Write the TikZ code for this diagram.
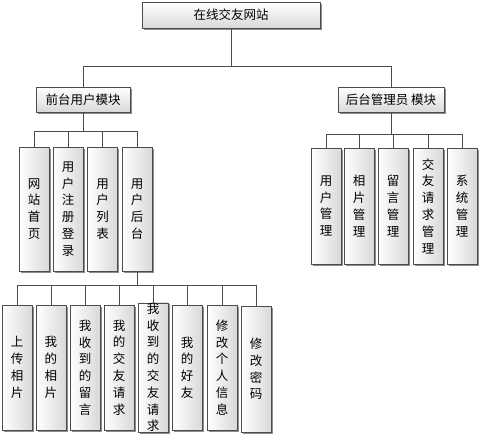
\documentclass[tikz,border=0pt]{standalone}
\usepackage{fontspec}
\setmainfont{Noto Sans CJK SC}
\usetikzlibrary{positioning}
\usetikzlibrary{shadows}
\tikzset{link/.style={draw=black!70, line width=0.8pt}}
\tikzset{boxbase/.style={draw=black!70, line width=0.8pt, inner sep=0pt,
  drop shadow={shadow xshift=1.5pt, shadow yshift=-1.5pt, fill=black!45, opacity=1},
  font=\fontsize{12.5}{16.8}\selectfont}}
\tikzset{hbox/.style={boxbase, top color=white, bottom color=black!15, minimum height=25pt}}
\tikzset{vbox/.style={boxbase, left color=white, right color=black!15, minimum width=30pt, align=center}}

\begin{document}
\begin{tikzpicture}[x=1pt,y=-1pt]
\useasboundingbox (0,0) rectangle (480,439);
\node[hbox, minimum width=178pt, minimum height=26pt] (site) at (231,15) {在线交友网站};
\node[hbox, minimum width=94pt] (front) at (83,99.5) {前台用户模块};
\node[hbox, minimum width=106pt] (back) at (391,100) {后台管理员 模块};
% front end
\node[vbox, minimum height=124pt] (home) at (34,209) {网\\站\\首\\页};
\node[vbox, minimum height=124pt] (reg) at (68,209) {用\\户\\注\\册\\登\\录};
\node[vbox, minimum height=124pt] (list) at (102.5,209) {用\\户\\列\\表};
\node[vbox, minimum height=124pt] (uback) at (137,209) {用\\户\\后\\台};
% back end
\node[vbox, minimum height=116pt] (umgr) at (326,206) {用\\户\\管\\理};
\node[vbox, minimum height=116pt] (pmgr) at (359,206) {相\\片\\管\\理};
\node[vbox, minimum height=116pt] (mmgr) at (393,206) {留\\言\\管\\理};
\node[vbox, minimum height=116pt] (fmgr) at (428,206) {交\\友\\请\\求\\管\\理};
\node[vbox, minimum height=116pt] (smgr) at (462,206) {系\\统\\管\\理};
% user backend
\node[vbox, minimum height=125pt] (upload) at (17,367.5) {上\\传\\相\\片};
\node[vbox, minimum height=125pt] (photos) at (51,367.5) {我\\的\\相\\片};
\node[vbox, minimum height=125pt] (recvmsg) at (85,367.5) {我\\收\\到\\的\\留\\言};
\node[vbox, minimum height=125pt] (myreq) at (119,367.5) {我\\的\\交\\友\\请\\求};
\node[vbox, minimum height=125pt] (recvreq) at (153,367.5) {我\\收\\到\\的\\交\\友\\请\\求};
\node[vbox, minimum height=125pt] (friends) at (187,367.5) {我\\的\\好\\友};
\node[vbox, minimum height=125pt] (info) at (222,367.5) {修\\改\\个\\人\\信\\息};
\node[vbox, minimum height=126pt] (pwd) at (256,369) {修\\改\\密\\码};
\draw[link] (site.south) -- ++(0,38) -| (front.north);
\draw[link] (site.south) -- ++(0,38) -| (back.north);
\foreach \n in {home,reg,list,uback}
  \draw[link] (front.south) -- ++(0,19) -| (\n.north);
\foreach \n in {umgr,pmgr,mmgr,fmgr,smgr}
  \draw[link] (back.south) -- ++(0,21) -| (\n.north);
\foreach \n in {upload,photos,recvmsg,myreq,recvreq,friends,info,pwd}
  \draw[link] (uback.south) -- ++(0,14) -| (\n.north);
\end{tikzpicture}
\end{document}
